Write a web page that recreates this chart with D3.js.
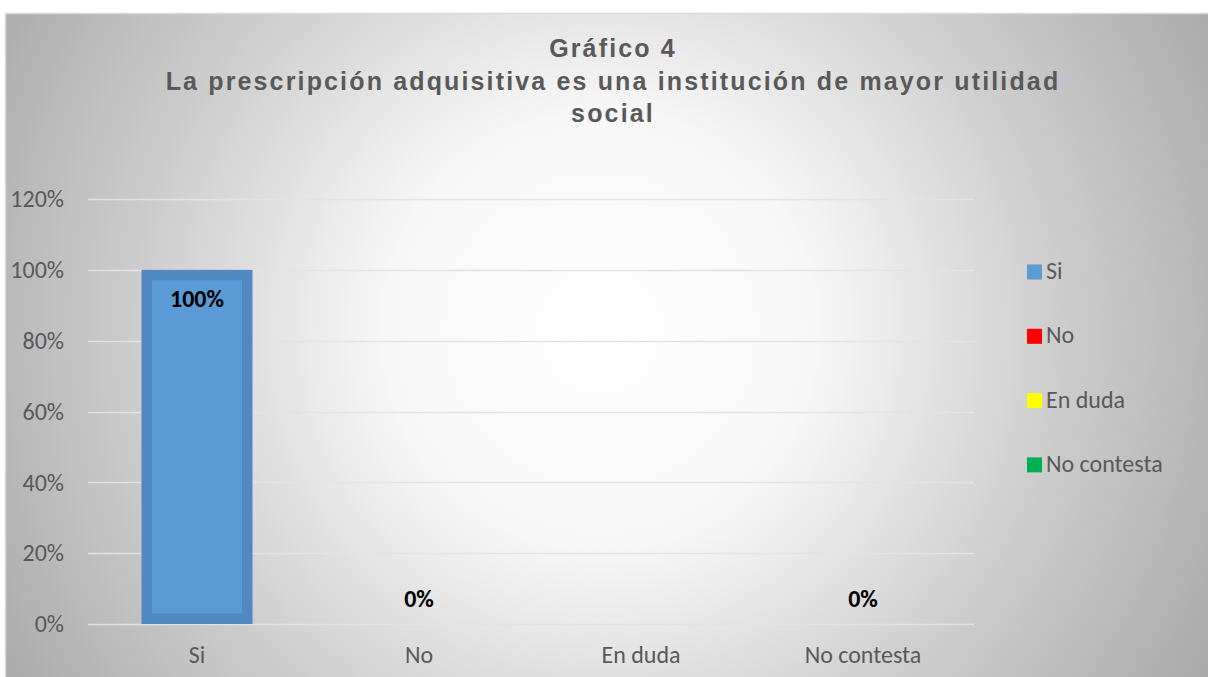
<!DOCTYPE html>
<html>
<head>
<meta charset="utf-8">
<script src="https://cdn.jsdelivr.net/npm/d3@7"></script>
<style>
  body { margin: 0; background: #fff; }
  svg { display: block; }
</style>
</head>
<body>
<div class="board"></div>
<script>
// chart data
var categories = ["Si", "No", "En duda", "No contesta"];
var values = [1.00, 0, 0, 0];
var valueLabels = ["100%", "0%", "", "0%"];
var legendColors = ["#5b9bd5", "#ff0000", "#ffff00", "#00b050"];
var yTicks = [0, 0.2, 0.4, 0.6, 0.8, 1.0, 1.2];
var titleLines = ["Gráfico 4", "La prescripción adquisitiva es una institución de mayor utilidad", "social"];

var width = 1208;
var height = 677;
var labelFont = "Carlito, Calibri, 'Open Sans', 'Liberation Sans', sans-serif";

var svg = d3.select(".board").append("svg")
  .attr("width", width)
  .attr("height", height);

var defs = svg.append("defs");
var grad = defs.append("radialGradient")
  .attr("id", "bg")
  .attr("gradientUnits", "userSpaceOnUse")
  .attr("cx", 600).attr("cy", 330).attr("r", 720);
grad.append("stop").attr("offset", "0%").attr("stop-color", "#ffffff");
grad.append("stop").attr("offset", "30%").attr("stop-color", "#f7f7f7");
grad.append("stop").attr("offset", "62%").attr("stop-color", "#cfcfcf");
grad.append("stop").attr("offset", "100%").attr("stop-color", "#a6a6a6");

// chart area
svg.append("rect")
  .attr("x", 5.5).attr("y", 13.5)
  .attr("width", width).attr("height", height)
  .attr("fill", "url(#bg)")
  .attr("stroke", "#d9d9d9")
  .attr("stroke-width", 1.5);

var plot = { left: 86, right: 974, top: 199, bottom: 624 };

var x = d3.scaleBand()
  .domain(categories)
  .range([plot.left, plot.right])
  .paddingInner(0.5)
  .paddingOuter(0.25);

var y = d3.scaleLinear()
  .domain([0, 1.2])
  .range([plot.bottom, plot.top]);

// gridlines
svg.append("g")
  .selectAll("line")
  .data(yTicks)
  .enter().append("line")
  .attr("x1", plot.left + 2)
  .attr("x2", plot.right)
  .attr("y1", function(d){ return Math.round(y(d)) + 0.5; })
  .attr("y2", function(d){ return Math.round(y(d)) + 0.5; })
  .attr("stroke", "#e3e3e3")
  .attr("stroke-width", 1.5);

// y axis labels
var yAxis = d3.axisLeft(y)
  .tickValues(yTicks)
  .tickSize(0)
  .tickPadding(0)
  .tickFormat(d3.format(".0%"));

var yg = svg.append("g")
  .attr("transform", "translate(64,0)")
  .call(yAxis);
yg.select(".domain").remove();
yg.selectAll("text")
  .attr("font-family", labelFont)
  .attr("font-size", 24)
  .attr("fill", "#595959");

// x axis labels
var xAxis = d3.axisBottom(x).tickSize(0).tickPadding(0);
var xg = svg.append("g")
  .attr("transform", "translate(0,646)")
  .call(xAxis);
xg.select(".domain").remove();
xg.selectAll("text")
  .attr("font-family", labelFont)
  .attr("font-size", 24)
  .attr("fill", "#595959");

// bars
var bw = 10.5;
svg.append("g")
  .selectAll("rect")
  .data(values)
  .enter().append("rect")
  .attr("x", function(d, i){ return x(categories[i]) + bw / 2; })
  .attr("y", function(d){ return y(d) + bw / 2; })
  .attr("width", x.bandwidth() - bw)
  .attr("height", function(d){ return Math.max(0, y(0) - y(d) - bw); })
  .attr("fill", "#5b9bd5")
  .attr("stroke", "#4f89c0")
  .attr("stroke-width", function(d){ return d > 0 ? bw : 0; });

// value labels
svg.append("g")
  .selectAll("text")
  .data(values)
  .enter().append("text")
  .attr("x", function(d, i){ return x(categories[i]) + x.bandwidth() / 2; })
  .attr("y", function(d){ return d > 0 ? y(d) + 37 : y(d) - 17; })
  .attr("text-anchor", "middle")
  .attr("font-family", labelFont)
  .attr("font-weight", "bold")
  .attr("font-size", 24)
  .attr("fill", "#000")
  .text(function(d, i){ return valueLabels[i]; });

// title
svg.append("g")
  .selectAll("text")
  .data(titleLines)
  .enter().append("text")
  .attr("x", 613)
  .attr("y", function(d, i){ return 57 + i * 32.5; })
  .attr("text-anchor", "middle")
  .attr("font-family", "Arial, 'Liberation Sans', sans-serif")
  .attr("font-weight", "bold")
  .attr("font-size", 25)
  .attr("letter-spacing", 2.15)
  .attr("fill", "#595959")
  .text(function(d){ return d; });

// legend
var legend = svg.append("g")
  .selectAll("g")
  .data(categories)
  .enter().append("g")
  .attr("transform", function(d, i){ return "translate(1027," + (264.5 + i * 64.3) + ")"; });

legend.append("rect")
  .attr("width", 15).attr("height", 15)
  .attr("fill", function(d, i){ return legendColors[i]; });

legend.append("text")
  .attr("x", 19)
  .attr("y", 14.5)
  .attr("font-family", labelFont)
  .attr("font-size", 24)
  .attr("fill", "#595959")
  .text(function(d){ return d; });
</script>
</body>
</html>
